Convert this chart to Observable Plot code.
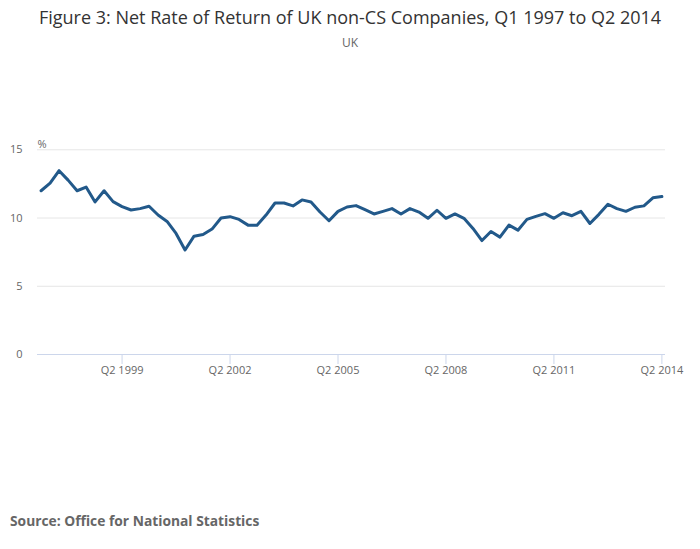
<!DOCTYPE html>
<html>
<head>
<meta charset="utf-8">
<script src="https://cdn.jsdelivr.net/npm/d3@7"></script>
<script src="https://cdn.jsdelivr.net/npm/@observablehq/plot@0.6"></script>
<style>
  html, body { margin: 0; padding: 0; background: #fff; }
  body { width: 700px; height: 549px; font-family: "Open Sans", sans-serif; position: relative; overflow: hidden; }
  #head { height: 62px; text-align: center; }
  #title { font-size: 18px; color: #333; padding-top: 5px; line-height: 24px; }
  #subtitle { font-size: 12px; color: #666; margin-top: 6px; line-height: 16px; }
  #source { position: absolute; left: 10px; top: 511px; font-size: 13.8px; font-weight: bold; color: #666; }
  svg { display: block; }
</style>
</head>
<body>
<div id="head">
  <div id="title">Figure 3: Net Rate of Return of UK non-CS Companies, Q1 1997 to Q2 2014</div>
  <div id="subtitle">UK</div>
</div>
<div id="chart"></div>
<div id="source">Source: Office for National Statistics</div>
<script>
// Quarterly net rate of return (%), Q1 1997 .. Q2 2014
const startYear = 1997;
const values = [
  12.0, 12.56, 13.47, 12.78, 12.0, 12.27, 11.18, 12.0, 11.2, 10.84,
  10.59, 10.69, 10.86, 10.22, 9.75, 8.87, 7.66, 8.67, 8.79, 9.19,
  10.0, 10.1, 9.9, 9.48, 9.48, 10.22, 11.1, 11.1, 10.89, 11.33,
  11.18, 10.44, 9.8, 10.49, 10.81, 10.91, 10.61, 10.3, 10.49, 10.69,
  10.3, 10.69, 10.44, 9.98, 10.57, 9.98, 10.3, 9.98, 9.24, 8.35,
  9.01, 8.6, 9.48, 9.11, 9.9, 10.12, 10.32, 9.98, 10.39, 10.17,
  10.49, 9.6, 10.27, 11.01, 10.69, 10.49, 10.79, 10.89, 11.48, 11.57
];
const quarterLabels = values.map((v, i) => `Q${(i % 4) + 1} ${startYear + Math.floor(i / 4)}`);
const xTickLabels = ["Q2 1999", "Q2 2002", "Q2 2005", "Q2 2008", "Q2 2011", "Q2 2014"];
const yTicks = [0, 5, 10, 15];
const unitLabel = ["%"];

const data = values.map((v, i) => ({i, label: quarterLabels[i], value: v}));
const xTicks = xTickLabels.map(l => quarterLabels.indexOf(l));

const chart = Plot.plot({
  width: 700,
  height: 340,
  marginTop: 87.3,
  marginBottom: 48,
  marginLeft: 37,
  marginRight: 35,
  style: {fontFamily: "Open Sans, sans-serif", fontSize: "11px", color: "#666", background: "#fff"},
  x: {domain: [-0.4, 69.4], ticks: xTicks, tickFormat: d => quarterLabels[d], label: null},
  y: {domain: [0, 15], ticks: yTicks, label: null},
  marks: [
    Plot.ruleY(yTicks.filter(d => d > 0), {stroke: "#e6e6e6", strokeWidth: 1}),
    Plot.ruleY([0], {stroke: "#ccd6eb", strokeWidth: 1}),
    Plot.axisX({ticks: xTicks, tickFormat: d => quarterLabels[d], tickSize: 10, tickPadding: 2, stroke: "#ccd6eb", fill: "#666", strokeOpacity: 1, fontSize: 11}),
    Plot.axisY({ticks: yTicks, tickSize: 0, tickPadding: 15, fill: "#666", fontSize: 11, label: null}),
    Plot.text(unitLabel, {frameAnchor: "top-left", dy: -10, textAnchor: "start", fill: "#666666", fontSize: 11}),
    Plot.line(data, {x: "i", y: "value", stroke: "#22598a", strokeWidth: 3, strokeLinejoin: "round", strokeLinecap: "round"})
  ]
});
document.getElementById("chart").appendChild(chart);
</script>
</body>
</html>
